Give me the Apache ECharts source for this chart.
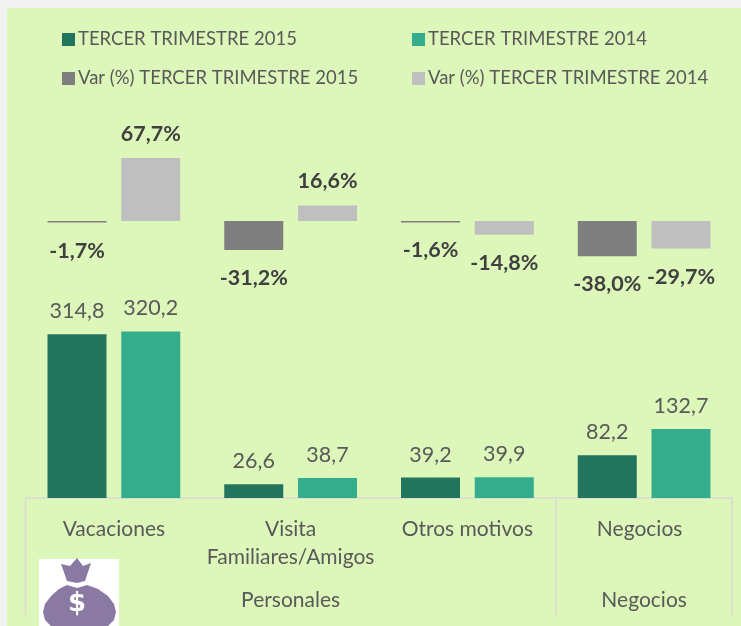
<!DOCTYPE html>
<html>
<head>
<meta charset="utf-8">
<style>
  html, body { margin: 0; padding: 0; background: #f2f2f2; }
  #chart { width: 741px; height: 626px; }
</style>
<script src="https://cdn.jsdelivr.net/npm/echarts@6/dist/echarts.min.js"></script>
</head>
<body>
<div id="chart"></div>
<script>
const categories = ['Vacaciones', 'Visita\nFamiliares/Amigos', 'Otros motivos', 'Negocios'];
const groupLabels = ['', 'Personales', '', 'Negocios'];
const values2015 = [314.8, 26.6, 39.2, 82.2];
const values2014 = [320.2, 38.7, 39.9, 132.7];
const var2015 = [-1.7, -31.2, -1.6, -38.0];
const var2014 = [67.7, 16.6, -14.8, -29.7];

const FONT = 'Lato';
const TEXT = '#595959';
const LINE = '#d9d9d9';

const chart = echarts.init(document.getElementById('chart'));

const comma = v => v.toFixed(1).replace('.', ',');

function varSeries(name, data, color) {
  return {
    name: name,
    type: 'bar',
    xAxisIndex: 0,
    yAxisIndex: 0,
    barWidth: 59,
    barGap: '25%',
    itemStyle: { color: color },
    // la etiqueta va arriba o abajo segun el signo
    data: data.map(v => ({
      value: v,
      label: { position: v < 0 ? 'bottom' : 'top', distance: v < 0 ? 17 : 13 }
    })),
    label: {
      show: true,
      fontFamily: FONT,
      fontSize: 21.5,
      fontWeight: 'bold',
      color: '#404040',
      formatter: p => comma(p.value) + '%'
    }
  };
}

function valueSeries(name, data, color) {
  return {
    name: name,
    type: 'bar',
    xAxisIndex: 1,
    yAxisIndex: 1,
    barWidth: 59,
    barGap: '25%',
    itemStyle: { color: color },
    data: data,
    label: {
      show: true,
      position: 'top',
      distance: 12,
      fontFamily: FONT,
      fontSize: 21.5,
      color: TEXT,
      formatter: p => comma(p.value)
    }
  };
}

function legendItem(name, left, top) {
  return {
    data: [name],
    left: left,
    top: top,
    padding: 0,
    icon: 'rect',
    itemWidth: 13,
    itemHeight: 13,
    itemGap: 0,
    selectedMode: false,
    textStyle: { fontFamily: FONT, fontSize: 18.5, color: TEXT, padding: [0, 0, 0, -2] }
  };
}

function sepLine(x) {
  return {
    type: 'line',
    shape: { x1: x, y1: 499, x2: x, y2: 615 },
    style: { stroke: LINE, lineWidth: 1.5 },
    z: 1
  };
}

const option = {
  backgroundColor: '#f2f2f2',
  animation: false,
  legend: [
    legendItem('TERCER TRIMESTRE 2015', 62, 30),
    legendItem('TERCER TRIMESTRE 2014', 412, 30),
    legendItem('Var (%) TERCER TRIMESTRE 2015', 62, 69),
    legendItem('Var (%) TERCER TRIMESTRE 2014', 412, 69)
  ],
  grid: [
    { left: 25.5, width: 707, top: 128, height: 186 },
    { left: 25.5, width: 707, top: 290, height: 208 }
  ],
  xAxis: [
    {
      type: 'category',
      gridIndex: 0,
      data: categories,
      axisLine: { show: false },
      axisTick: { show: false },
      axisLabel: { show: false }
    },
    {
      type: 'category',
      gridIndex: 1,
      // "Negocios" de la primera fila va algo a la izquierda
      data: categories.map(c => c === 'Negocios'
        ? { value: c, textStyle: { padding: [0, 9, 0, 0] } }
        : c),
      axisLine: { lineStyle: { color: LINE, width: 1.5 } },
      axisTick: { show: false },
      axisLabel: {
        interval: 0,
        margin: 17,
        fontFamily: FONT,
        fontSize: 21,
        lineHeight: 28,
        color: TEXT
      }
    },
    {
      type: 'category',
      gridIndex: 1,
      position: 'bottom',
      offset: 90,
      data: groupLabels,
      axisLine: { show: false },
      axisTick: { show: false },
      axisLabel: { interval: 0, margin: 2, fontFamily: FONT, fontSize: 21, color: TEXT }
    }
  ],
  yAxis: [
    { type: 'value', gridIndex: 0, min: -100, max: 100, show: false },
    { type: 'value', gridIndex: 1, min: 0, max: 400, show: false }
  ],
  series: [
    valueSeries('TERCER TRIMESTRE 2015', values2015, '#23745c'),
    valueSeries('TERCER TRIMESTRE 2014', values2014, '#34ad8c'),
    varSeries('Var (%) TERCER TRIMESTRE 2015', var2015, '#7f7f7f'),
    varSeries('Var (%) TERCER TRIMESTRE 2014', var2014, '#bfbfbf')
  ],
  graphic: [
    {
      type: 'rect',
      shape: { x: 7, y: 8, width: 734, height: 618 },
      style: { fill: '#dcf7b9' },
      z: -10
    },
    sepLine(25.5),
    sepLine(556),
    sepLine(732),
    {
      type: 'rect',
      shape: { x: 39, y: 559, width: 80, height: 67 },
      style: { fill: '#ffffff' },
      z: 2
    },
    // bolsa de dinero: nudo y cuerpo
    {
      type: 'polygon',
      shape: { points: [[77, 558], [83, 566], [91, 563], [85, 581], [77, 583], [67, 581], [61, 564], [70, 566]] },
      style: { fill: '#8a7aa3' },
      z: 3
    },
    {
      type: 'polygon',
      shape: {
        points: [[67, 585], [77, 588], [87, 585], [98, 589], [108, 596], [114, 604], [116, 612], [114, 620],
          [108, 626], [51, 626], [45, 620], [43, 612], [45, 604], [51, 596], [59, 589]]
      },
      style: { fill: '#8a7aa3' },
      z: 3
    },
    {
      type: 'text',
      x: 77,
      y: 604,
      style: {
        text: '$',
        fill: '#ffffff',
        fontFamily: 'DejaVu Sans',
        fontSize: 26,
        fontWeight: 'bold',
        textAlign: 'center',
        textVerticalAlign: 'middle'
      },
      z: 4
    }
  ]
};

chart.setOption(option);
</script>
</body>
</html>
